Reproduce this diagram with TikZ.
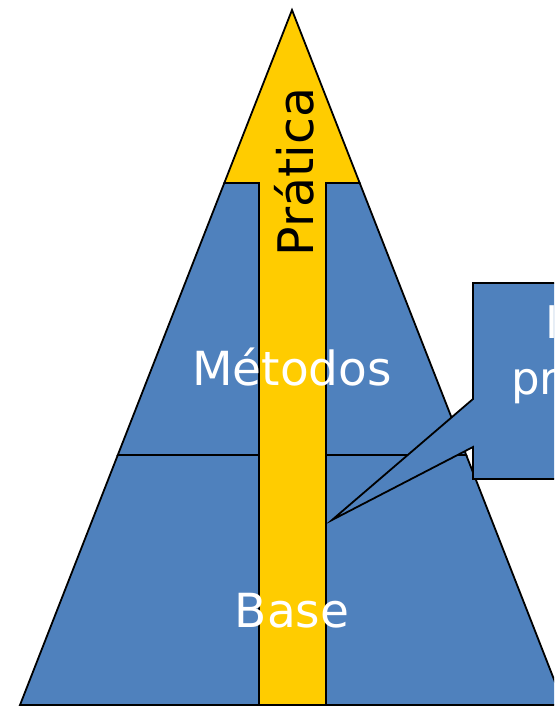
\documentclass[tikz,border=0pt]{standalone}
\usepackage{fontspec}
\setmainfont{DejaVu Sans}
\definecolor{layerblue}{HTML}{4F81BD}
\definecolor{practiceyellow}{HTML}{FFCC00}

\begin{document}
\begin{tikzpicture}[x=1pt, y=-1pt,
    layer/.style={draw=black, line width=1.8pt, fill=layerblue},
    practice/.style={draw=black, line width=1.8pt, fill=practiceyellow},
    layertext/.style={font=\fontsize{47}{56}\selectfont, text=white, inner sep=0pt},
    notetext/.style={font=\fontsize{45}{54}\selectfont, text=white, inner sep=0pt, anchor=base west}
]
\clip (0,0) rectangle (554,706);
\fill[white] (0,0) rectangle (554,706);

% Base and Metodos layers
\draw[layer] (20,705) -- (117.8,455) -- (466.2,455) -- (564,705) -- cycle;
\draw[layer] (117.8,455) -- (224.3,183) -- (359.7,183) -- (466.2,455) -- cycle;

% Pratica arrow through the middle
\draw[practice] (259,705) -- (259,183) -- (224.3,183) -- (292,10) -- (359.7,183)
    -- (326,183) -- (326,705) -- cycle;

\node[layertext] (metodos) at (292,385) [anchor=base] {Métodos};
\node[layertext] (base) at (292,627) [anchor=base] {Base};
\node[font=\fontsize{49}{58}\selectfont, inner sep=0pt, rotate=90, anchor=base] (pratica) at (313,172) {Prática};

% Callout
\draw[layer] (473,283) -- (620,283) -- (620,479) -- (473,479) -- (473,447)
    -- (332,520) -- (473,399) -- cycle;
\node[notetext] (note1) at (545,338) {I};
\node[notetext] (note2) at (511,394) {pr};

\end{tikzpicture}
\end{document}
